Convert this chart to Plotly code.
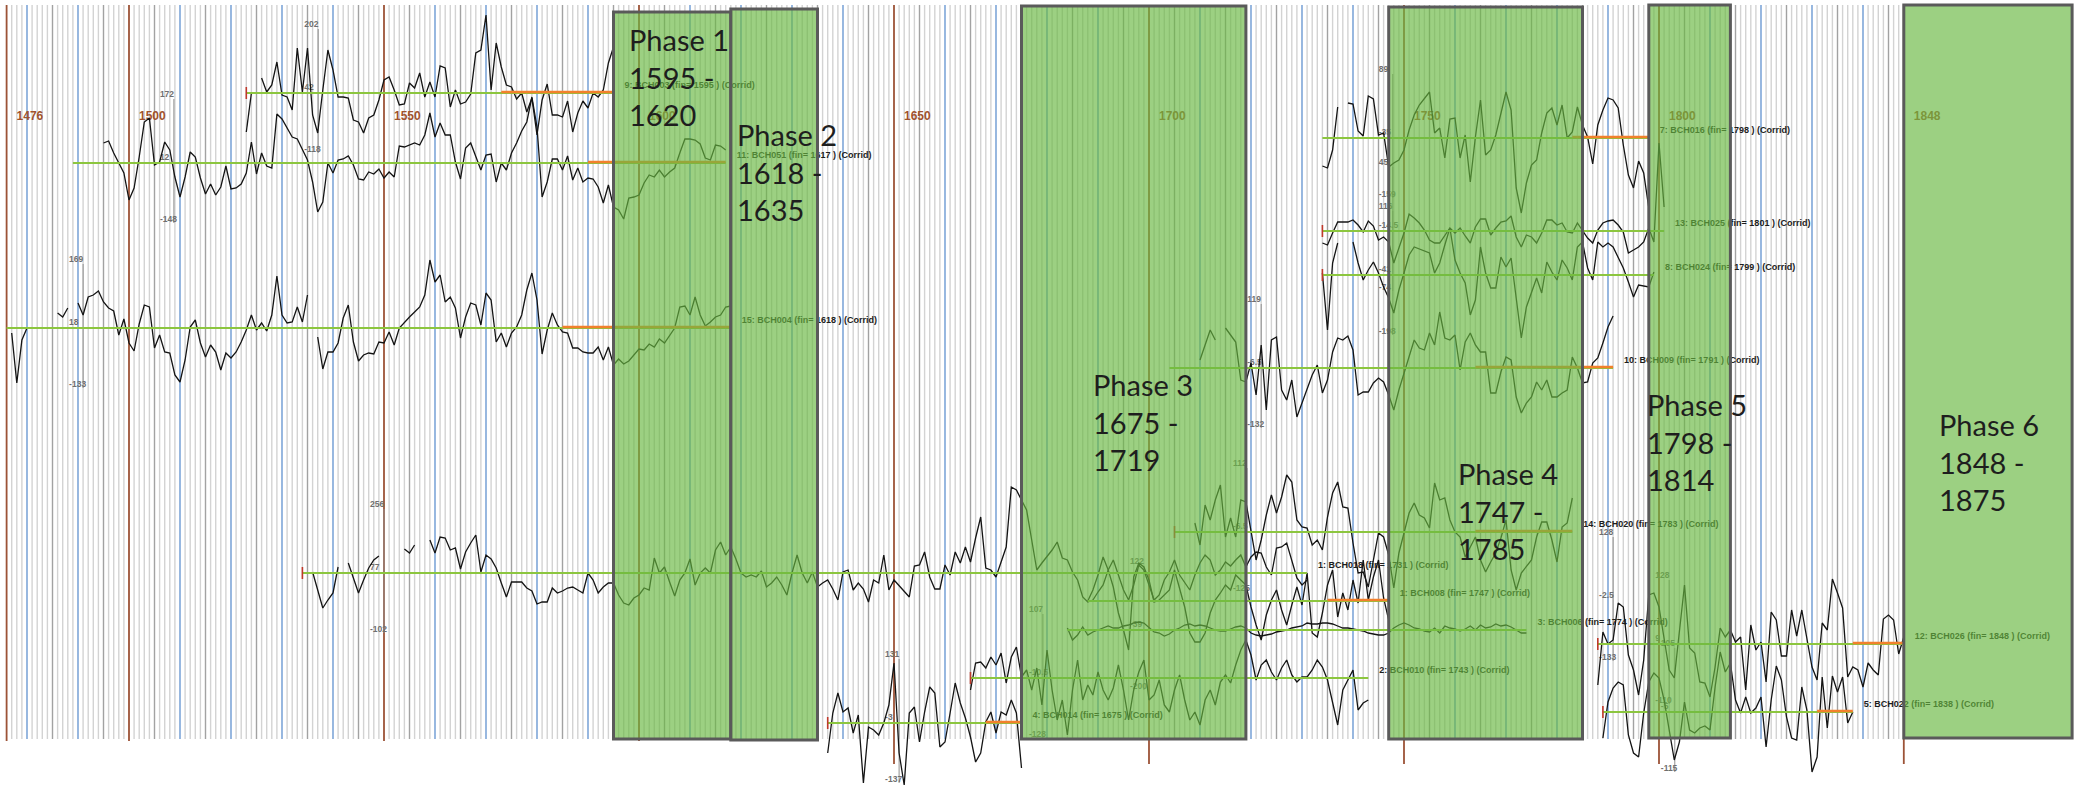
import plotly.graph_objects as go

# ---------------- data ----------------
grid_first, grid_last = 1476, 1848
year_labels = [1476, 1500, 1550, 1600, 1650, 1700, 1750, 1800, 1848]
long_tick_years = [1650, 1700, 1750, 1800, 1848]

phase_names = ["Phase 1", "Phase 2", "Phase 3", "Phase 4", "Phase 5", "Phase 6"]
phase_from = [1595, 1618, 1675, 1747, 1798, 1848]
phase_to = [1620, 1635, 1719, 1785, 1814, 1875]
phase_box_end = [1618, 1635, 1719, 1785, 1814, 1881]

codes = ["BCH003", "BCH051", "BCH004", "BCH018", "BCH014", "BCH010", "BCH008", "BCH006",
         "BCH020", "BCH009", "BCH016", "BCH025", "BCH024", "BCH026", "BCH022"]
numbers = [9, 11, 15, 1, 4, 2, 1, 3, 14, 10, 7, 13, 8, 12, 5]
fin_years = [1595, 1617, 1618, 1731, 1675, 1743, 1747, 1774, 1783, 1791, 1798, 1801, 1799, 1848, 1838]
span_start = [1523, 1489, 1476, 1534, 1637, 1665, 1688, 1684, 1705, 1704, 1734, 1734, 1734, 1788, 1789]
first_year = [1523, 1495, 1477, 1536, 1637, 1665, 1688, 1684, 1709, 1710, 1734, 1734, 1734, 1788, 1789]
orange_from = [1573, 1590, 1585, None, 1668, None, 1735, None, 1764, 1764, 1783, None, None, 1838, 1831]
start_tick = [True, False, False, True, True, True, False, False, True, False, False, True, True, True, True]
scale_year = [1537.1, 1508.8, 1491.0, 1550.0, 1651.0, 1679.2, 1699.0, 1719.2, 1722.0,
              1747.8, 1747.8, 1747.8, 1791.0, 1802.0, 1803.1]
scale_code = ["BCH003", "BCH051", "BCH004", "BCH018", "BCH014", "BCH010", "BCH006", "BCH020", "BCH009",
              "BCH016", "BCH025", "BCH024", "BCH008", "BCH026", "BCH022"]
scale_max = ["202", "172", "169", "256", "131", "107", "122", "112", "119", "89", "45", "116", "128", "128", "105"]
scale_mid = ["42", "12", "18", "77", "-3", "-10.5", "-39", "-6.5", "-6.5", "-35", "-14.5", "-41", "-2.5", "9", "-5"]
scale_min = ["-118", "-148", "-133", "-102", "-137", "-128", "-200", "-125", "-132", "-159", "-74", "-198", "-133", "-110", "-115"]

# ring-width index deviations (display units), one value per year from first_year
bch003 = [-39, 0, None, 15, 1, 8, 31, -2, -4, -17, 45, 1, 45, -22, -40, 3, 43, 23, -4, -4,
          -5, -27, -29, -40, -25, -22, -7, 13, 16, 3, -12, -11, 10, 5, 20, -4, 11, -4, 27, 25,
          -14, 3, -11, -9, -1, 40, 43, 78, 3, 50, 26, 8, 6, -6, 0, -19, -5, -42, -7, 9,
          -22, -22, -24, -8, -39, -20, -8, -15, 0, -4, 3, 30, 46]
bch051 = [20, 22, 10, 0, -10,
          -37, -25, 6, 41, 45, -2, 1, 21, 13, -14, -34, -14, 11, 6, -15, -31, -21, -32, -24, -3,
          -26, -25, -21, -10, 21, -11, 10, -3, -5, 49, 44, 35, 26, 24, 13, 3, -19, -49, -39, 0,
          -10, 3, 4, 7, -2, -16, -17, -9, -11, -6, -15, -9, -14, 17, 16, 18, 20, 18, 28, 50,
          26, 40, 28, 28, 1, -16, 15, 20, 6, -7, 8, 9, -19, 0, -7, 10, 20, 32, 41, 66,
          36, -34, -19, 4, 4, -7, 7, -17, -5, -19, -15, -16, -24, -40, -22, -44, -47, -56, -35, -34,
          -32, -20, -12, -14, -7, -14, -9, -5, 10, 24, 24, 23, 19, 5, 3, 18, 17, 13]
bch004 = [-5, -55, -12, 0, None, None, None, None, None, 15, 11, 20, None,
          25, 13, 31, 33, 37, 26, 20, 17, -7, 9, -15, -23, 4, 23, 21, -20, -7, -24, -25, -47,
          -54, -32, 1, 8, -15, -29, -17, -24, -42, -25, -30, -24, -14, -2, 13, -2, 5, -3, 13, 52,
          13, 5, 6, 21, 6, 33, None, -9, -41, -24, -24, -15, 10, 23, -14, -33, -27, -25, -26, -14,
          -15, -4, -17, 0, 6, 11, 16, 21, 33, 68, 46, 53, 26, 31, 20, -10, 11, 25, 23, 3,
          35, 28, -14, -5, -19, -5, 1, 13, 38, 55, 28, -26, -2, 15, 3, -4, -5, -20, -20, -24,
          -25, -25, -19, -32, -19, -37, -31, -36, -33, -27, -21, -22, -16, -19, -11, -15, -8, 0, 21, 22,
          13, 31, 13, 2, 6, 11, 13, 21, 22]
bch018 = [1, -17, -35, -27, -20, 6, None, 10, -5, -20, -7, 5, 13, 17,
          None, None, None, None, 24, 20, 28, None, None,
          33, 20, 36, 35, 23, 25, 4, 21, 30, 38, 1, 18, 14, 5, -10, -24, -9, -9, -9, -15,
          -18, -31, -29, -29, -15, -20, -18, -15, -14, -17, -20,
          0, -7, -20, -14, -10, -10, -22, -30, -32, -25,
          -22, -15, -17, 15, 0, 6, -9, -23, -7, 0,
          14, -12, 0, 5, 0, 23, 31, 18, 26, 14,
          0, -4, -2, -4, 2, -14, -10, -4, -12, -22,
          0, 18, 0, -10, 1, -14, -10, -7, -16, -27,
          1, 3, -17, -10, -16, -29, -7, -10, 18, -17,
          -7, -13, -18, -24, 7, 8, 21, -4, -16, -16,
          8, -2, 21, 10, 26, 11, 35, 56, 5, 3,
          -4, 10, 26, 86, 83, 73, 63, 33, 3, 10,
          16, 23, 31, 15, 13, 1, -7, -24, -29, -27,
          -19, -12, 3, 13, -2, -17, -27, -12, 8, 3,
          -12, -27, -22, -7, 1, 13, -2, -10, -17, -2,
          10, 18, 13, -2, 3, 11, 7, 13, 18, 6,
          16, 21, 20, 6, -2, 25, 26, 30, 13, -5,
          -12, -7]
bch014 = [-30, 10, 30, 11, 15, -10, 8, -60, -4, -7, -12, 0, 18, 60, -30, -62, 10, 16, -19, 11,
          36, 30, -24, -19, 10, 40, 20, 5, -14, -39, -30, 1, 11, -10, 11, 8, 23, 10, -45]
bch010 = [-12, 15, 16, 10, 21, 13, 25, -5, 21, 31,
          1, 8, -12, 10, -27, 28, -12, -42, -22, -57,
          -12, 18, -22, -7, -17, 6, -12, -22, -10, 13,
          -12, -42, -12, 6, 18, -22, -17, -2, -27, -34,
          -12, 3, -22, -42, -34, -47, -22, -12, -27, -4,
          3, -5, 13, 28, 38, 23, -2, 13, 18, 6,
          -2, 10, 18, 3, -4, 1, 1, 8, 18, 11,
          -2, -25, -47, -12, -2, 8, -32, -25, -22]
bch008 = [0, 11, 26, 44, 31, 14, -12, -29, -49, 24, 38, 34, 21, -1, 1, 6, 11, 31, 11, -6,
          -32, -41, -41, -32, -12, 1, 8, 16, 11, 26, 21, 16, -6, -24, -39, -14, 1, 11, -9, -24,
          -4, 14, -4, 28, -32, -36, -12, 16, 31, -16, 8, -9, 21, -2, 41, 1, 24, 41, 3, -19]
bch006 = [2, -10, -5, 3, -5, -2, 0, 2, 4, 2, 2, 4, 5, 7, 8, 7, 2, -2, -3, -6,
          -4, 0, 2, 5, 6, 4, 5, 4, 2, 0, -1, -1, 1, 3, 4, 2, -3, -5, -6, -5,
          -4, -2, -1, 0, 2, 3, 4, 7, 6, 6, 7, 7, 6, 4, 2, 2, 1, 0, -1, -3,
          -4, -5, -5, -3, 2, 5, 7, 5, 2, 1, -1, -2, 2, -3, 4, 2, 1, -1, 1, 4,
          0, 5, 2, 3, 6, 4, 5, 3, 0, -3, -3]
bch020 = [9, -13, 27, 12, 32, 47, -5, 14, -5, 32, 30, 2, -28, -8, 17, 37, 19, 35, 57, 50,
          12, 5, 4, -13, -8, -18, 15, 39, 50, 25, 24, -11, -41, -40, -55, -28, -1, -5, -23, -56,
          -21, -1, 19, 29, 17, 14, 4, 49, 32, 34, 12, 0, -5, -25, -15, -5, -28, -40, -30, -21,
          -6, 12, -38, -58, -41, -35, -28, -5, 10, 10, -8, -30, 5, 9, 34]
bch009 = [8, 23, 38, 28, None, 40, 33, 26, -12, -14, 5, -27, 23, -42, 28, 31, -22, -32, -12, -49,
          -35, -20, -7, 3, -25, -12, 16, 30, 28, 32, 18, -27, -24, -24, -15, -10, -14, -27, -42, -22,
          -5, 13, 28, 20, 18, 35, 23, 56, 30, 28, 33, -2, 26, 35, 23, 16, 16, -25, -25, -4,
          11, 8, -29, -45, -35, -29, -14, -22, -12, -29, -29, -25, -22, 11, 0, -15, -14, 5, 10, 25,
          41, 52]
bch016 = [-28, -30, -12, 31, None, 35, 34, 7, 2, 42, 39, 3, 5, -29, -25, -22, -12, 8, 23, 33,
          40, 46, 5, 10, -20, 19, 20, -20, 3, -44, 1, 38, -17, -12, 3, 25, 46, 28, -50, -75,
          -45, -27, -22, 5, 25, 30, 13, 33, 0, 6, 31, 13, 1, -26, 13, 28, 40, 38, 30, -7,
          -37, -50, -23, -35, -70]
bch025 = [-12, -14, -2, 9, 9, 9, 11, 6, -1, 10, 5, -9, -6, -11, -32, -17, -2, 17, 13, 8,
          1, -9, -12, -12, -4, 3, -2, 3, -5, -12, 4, 12, 12, -4, 3, 9, 10, 15, -6, -16,
          -4, -6, -12, -2, 11, 11, 6, 8, -1, -2, 8, 1, -7, -12, 1, 8, 10, 11, 6, -1,
          -22, -19, -16, -11, 3, -11, 88, 24]
bch024 = [2, -55, 12, 32, None, None, 33, 12, -5, 5, 13, 2, -12, -23, -38, -15, 2, 20, 28, 26,
          24, 22, 2, 12, 30, 47, 15, 2, -8, -40, -25, 28, 2, -13, -13, 18, 8, 17, -23, -63,
          -32, -18, -3, -18, 13, 3, -5, 15, 7, -5, 28, 33, 7, -5, 33, 28, 32, 28, 17, 7,
          -7, -22, -10, -11, -12, 3]
bch026 = [-41, 12, 0, 4, 41, 37, -11, -26, -51, -16, 49, 51, 37, 7, -26, -34, 12, 59, -4, -9,
          -38, -39, -53, -23, 16, 7, 14, 2, 7, -46, 19, -6, 2, -38, 32, 24, -12, -12, 34, 8,
          34, 7, -23, -36, 21, 14, 65, 51, 36, -33, -23, -26, -43, -19, -26, -31, 25, 29, 24, -10,
          7]
bch022 = [-26, 10, 24, 30, 27, -23, -41, -45, -1, 30, 39, 34, 12, -18, -48, -30, 10, -18, -21, -16,
          -14, -18, 25, 60, 40, 49, 12, -1, 15, -1, 4, 15, -35, 12, 46, 32, -5, -26, -28, 25,
          2, -60, -45, 35, -16, 36, 20, 35, -11, 0]

values = {"BCH003": bch003, "BCH051": bch051, "BCH004": bch004, "BCH018": bch018, "BCH014": bch014,
          "BCH010": bch010, "BCH008": bch008, "BCH006": bch006, "BCH020": bch020, "BCH009": bch009,
          "BCH016": bch016, "BCH025": bch025, "BCH024": bch024, "BCH026": bch026, "BCH022": bch022}

# ---------------- layout / positions (pixels of the 2084x787 canvas) ----------------
W, H = 2084, 787
PXY = 5.1                      # pixels per year
LEFT_YEAR = 1500 - 129 / PXY
RIGHT_YEAR = LEFT_YEAR + W / PXY
track_y = [93, 163, 328, 573, 723, 678, 601, 630, 532, 368, 138, 231, 275, 644, 712]
phase_box_top = [12, 9, 6, 7, 5, 5]
phase_box_bottom = [739, 740, 739, 739, 738, 738]
phase_text_year = [1597.6, 1618.8, 1688.7, 1760.2, 1797.3, 1854.5]
phase_text_y = [77, 172, 422, 511, 442, 462]
GRID_TOP, GRID_BOTTOM, LONG_BOTTOM = 5, 739, 764
YEAR_LABEL_Y = 117


def dx(pixels):
    return pixels / PXY


fig = go.Figure()

# ---------------- year grid ----------------
grid_style = {"light": ("#d3d3d3", 1.4), "dark": ("#a2a2a2", 1.4),
              "blue": ("#7ea6d8", 1.6), "brown": ("#9c5337", 1.8)}
grid_xy = {k: ([], []) for k in grid_style}
for yr in range(grid_first, grid_last + 1):
    if yr % 50 == 0 or yr in (grid_first, grid_last):
        cls = "brown"
    elif yr % 10 == 0:
        cls = "blue"
    elif yr % 5 == 0:
        cls = "dark"
    else:
        cls = "light"
    bottom = LONG_BOTTOM if yr in long_tick_years else (GRID_BOTTOM + (2 if cls == "brown" else 0))
    xs, ys = grid_xy[cls]
    xs += [yr, yr, None]
    ys += [GRID_TOP, bottom, None]
for cls in ["light", "dark", "blue", "brown"]:
    col, wid = grid_style[cls]
    fig.add_trace(go.Scatter(x=grid_xy[cls][0], y=grid_xy[cls][1], mode="lines",
                             line=dict(color=col, width=wid), hoverinfo="skip"))

# year labels
fig.add_trace(go.Scatter(x=[y + dx(10) for y in year_labels], y=[YEAR_LABEL_Y] * len(year_labels),
                         mode="text", text=["<b>%d</b>" % y for y in year_labels],
                         textposition="middle right",
                         textfont=dict(family="Liberation Sans, Arial", size=12, color="#a0522d"),
                         hoverinfo="skip"))

# ---------------- scale bars ----------------
bx, by, lx, ly, lt = [], [], [], [], []
for sy, sc, smax, smid, smin in zip(scale_year, scale_code, scale_max, scale_mid, scale_min):
    base = track_y[codes.index(sc)]
    bx += [sy, sy, None]
    by += [base - 64, base + 60, None]
    for txt, off in ((smax, -68), (smid, -5), (smin, 57)):
        lx.append(sy - dx(14))
        ly.append(base + off)
        lt.append("<b>%s</b>" % txt)
fig.add_trace(go.Scatter(x=bx, y=by, mode="lines", line=dict(color="#8f8f8f", width=1), hoverinfo="skip"))
fig.add_trace(go.Scatter(x=lx, y=ly, mode="text", text=lt, textposition="middle right",
                         textfont=dict(family="Liberation Sans, Arial", size=8.5, color="#6f6f6f"),
                         hoverinfo="skip"))

# ---------------- ring-width curves ----------------
for code, fy in zip(codes, first_year):
    base = track_y[codes.index(code)]
    vals = values[code]
    xs = [fy + i for i in range(len(vals))]
    ys = [None if v is None else base - v for v in vals]
    fig.add_trace(go.Scatter(x=xs, y=ys, mode="lines", line=dict(color="#141414", width=1.3),
                             connectgaps=False, hoverinfo="skip"))

# ---------------- mean lines, overlap segments, start ticks ----------------
gx, gy, ox, oy, tx, ty = [], [], [], [], [], []
for i, code in enumerate(codes):
    base = track_y[i]
    gx += [span_start[i], fin_years[i], None]
    gy += [base, base, None]
    if orange_from[i] is not None:
        ox += [orange_from[i], fin_years[i], None]
        oy += [base - 1, base - 1, None]
    if start_tick[i]:
        tx += [span_start[i], span_start[i], None]
        ty += [base - 6, base + 6, None]
fig.add_trace(go.Scatter(x=gx, y=gy, mode="lines", line=dict(color="#8cc63f", width=2), hoverinfo="skip"))
fig.add_trace(go.Scatter(x=ox, y=oy, mode="lines", line=dict(color="#f2802c", width=2.5), hoverinfo="skip"))
fig.add_trace(go.Scatter(x=tx, y=ty, mode="lines", line=dict(color="#c0392b", width=1.6), hoverinfo="skip"))

# series labels
fig.add_trace(go.Scatter(
    x=[f + dx(11) for f in fin_years], y=[b - 7 for b in track_y], mode="text",
    text=["<b>%d: %s (fin= %d ) (Corrid)</b>" % (n, c, f) for n, c, f in zip(numbers, codes, fin_years)],
    textposition="middle right",
    textfont=dict(family="Liberation Sans, Arial", size=9, color="#1c1c1c"), hoverinfo="skip"))

# ---------------- phase boxes ----------------
for i in range(len(phase_names)):
    fig.add_shape(type="rect", xref="x", yref="y", x0=phase_from[i], x1=phase_box_end[i],
                  y0=phase_box_top[i], y1=phase_box_bottom[i], layer="above",
                  fillcolor="rgba(104,184,66,0.66)", line=dict(color="#5a5a5a", width=3))
    fig.add_annotation(x=phase_text_year[i], y=phase_text_y[i], xref="x", yref="y",
                       text="%s<br>%d -<br>%d" % (phase_names[i], phase_from[i], phase_to[i]),
                       showarrow=False, xanchor="left", yanchor="middle", align="left",
                       font=dict(family="Lato, Open Sans, sans-serif", size=29, color="#1e1e1e"))

fig.update_layout(
    width=W, height=H, margin=dict(l=0, r=0, t=0, b=0, pad=0),
    paper_bgcolor="white", plot_bgcolor="white", showlegend=False, hovermode=False,
    xaxis=dict(range=[LEFT_YEAR, RIGHT_YEAR], visible=False, fixedrange=True),
    yaxis=dict(range=[H, 0], visible=False, fixedrange=True),
)

fig.write_html("out.html", config={"displayModeBar": False, "staticPlot": True},
               post_script="document.body.style.margin='0';document.body.style.overflow='hidden';")
